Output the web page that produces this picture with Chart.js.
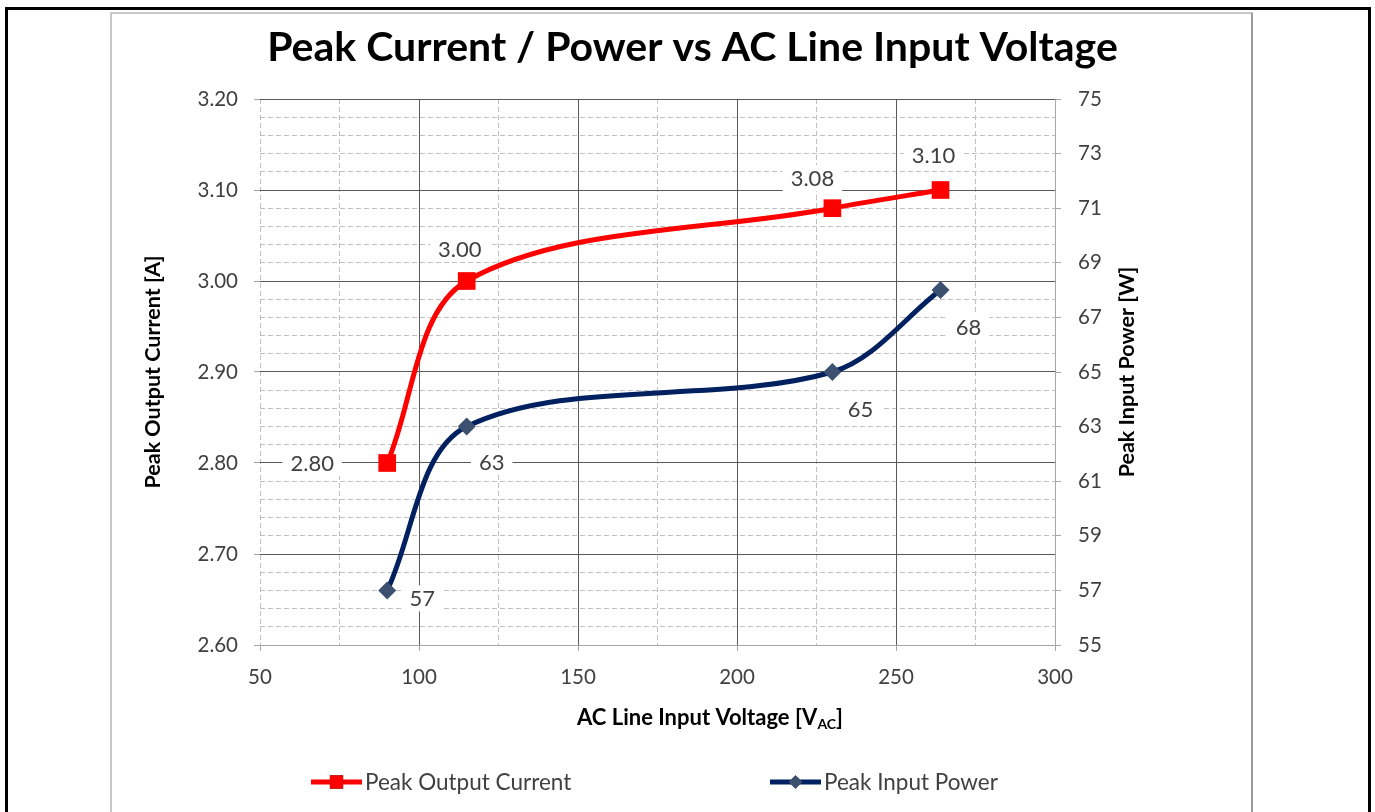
<!DOCTYPE html>
<html lang="en">
<head>
  <meta charset="UTF-8">
  <title>Peak Current / Power vs AC Line Input Voltage</title>
  <script src="https://cdn.jsdelivr.net/npm/chart.js"></script>
  <style>
    html, body { margin: 0; padding: 0; background: #fff; }
    canvas { display: block; }
  </style>
</head>
<body>
  <canvas id="chart" width="1375" height="812"></canvas>

  <script>
    // data
    const voltage = [90, 115, 230, 264];          // V AC
    const peakCurrent = [2.80, 3.00, 3.08, 3.10]; // A
    const peakPower = [57, 63, 65, 68];           // W

    const voltageRange = [50, 300];
    const currentRange = [2.60, 3.20];
    const powerRange = [55, 75];

    const titleText = 'Peak Current / Power vs AC Line Input Voltage';
    const FONT = 'Lato, "Open Sans", sans-serif';
    const TEXT = '#404040';
    const MAJOR = '#595959';
    const MINOR = '#c0c0c0';
    const AXIS = '#a6a6a6';

    // size the title so it spans like the original
    function fitSize(weight, text, width) {
      const c = document.createElement('canvas').getContext('2d');
      c.font = weight + ' 100px ' + FONT;
      return Math.round(100 * width / c.measureText(text).width);
    }
    const titleSize = fitSize('bold', titleText, 841);

    // frame, labels, axis titles and legend
    const decor = {
      id: 'decor',
      beforeDraw(chart) {
        const ctx = chart.ctx;
        ctx.save();
        ctx.fillStyle = '#fff';
        ctx.fillRect(0, 0, chart.width, chart.height);
        ctx.strokeStyle = '#c8c8c8';
        ctx.lineWidth = 2;
        ctx.strokeRect(111, 13, 1141, 900);
        ctx.strokeStyle = '#9a9a9a';
        ctx.beginPath(); ctx.moveTo(1252, 13); ctx.lineTo(1252, 812); ctx.stroke();
        ctx.strokeStyle = '#000';
        ctx.lineWidth = 3;
        ctx.strokeRect(6.5, 8.5, 1363, 900);
        ctx.restore();
      },
      afterDatasetsDraw(chart) {
        const ctx = chart.ctx;
        const area = chart.chartArea;
        ctx.save();

        // data labels on white boxes
        ctx.font = '22px ' + FONT;
        ctx.textAlign = 'center';
        ctx.textBaseline = 'middle';
        chart.data.datasets.forEach((ds, i) => {
          const meta = chart.getDatasetMeta(i);
          meta.data.forEach((pt, j) => {
            const txt = ds.labelFormat(ds.data[j].y);
            const [dx, dy] = ds.labelOffsets[j];
            const cx = pt.x + dx, cy = pt.y + dy;
            const w = ctx.measureText(txt).width + 16;
            ctx.fillStyle = '#fff';
            ctx.fillRect(cx - w / 2, cy - 13, w, 26);
            ctx.fillStyle = TEXT;
            ctx.fillText(txt, cx, cy + 1);
          });
        });

        // axis titles
        ctx.fillStyle = '#000';
        ctx.font = 'bold 21.5px ' + FONT;
        const midY = (area.top + area.bottom) / 2;
        [[153, 'Peak Output Current [A]'], [1127, 'Peak Input Power [W]']].forEach(([x, t]) => {
          ctx.save();
          ctx.translate(x, midY);
          ctx.rotate(-Math.PI / 2);
          ctx.textAlign = 'center';
          ctx.fillText(t, 0, 0);
          ctx.restore();
        });

        const main = 'AC Line Input Voltage [V';
        const sub = 'AC';
        ctx.font = 'bold 22px ' + FONT;
        const wMain = ctx.measureText(main).width;
        const wEnd = ctx.measureText(']').width;
        ctx.font = 'bold 14px ' + FONT;
        const wSub = ctx.measureText(sub).width;
        let x = 710 - (wMain + wSub + wEnd) / 2;
        ctx.textAlign = 'left';
        ctx.font = 'bold 22px ' + FONT;
        ctx.fillText(main, x, 718);
        x += wMain;
        ctx.font = 'bold 14px ' + FONT;
        ctx.fillText(sub, x, 724);
        x += wSub;
        ctx.font = 'bold 22px ' + FONT;
        ctx.fillText(']', x, 718);

        // legend
        const ly = 782;
        ctx.font = '22.5px ' + FONT;
        ctx.lineWidth = 5;
        chart.data.datasets.forEach((ds, i) => {
          const x0 = i === 0 ? 311 : 770;
          ctx.strokeStyle = ds.borderColor;
          ctx.beginPath(); ctx.moveTo(x0, ly); ctx.lineTo(x0 + 51, ly); ctx.stroke();
          Chart.helpers.drawPoint(ctx, {
            pointStyle: ds.pointStyle,
            radius: ds.pointRadius * 0.75,
            borderWidth: 0
          }, x0 + 25.5, ly);
          ctx.fillStyle = ds.pointBackgroundColor;
          ctx.fill();
          ctx.fillStyle = TEXT;
          ctx.fillText(ds.label, x0 + 54, ly + 1);
        });
        ctx.restore();
      }
    };

    const ctx = document.getElementById('chart').getContext('2d');
    const chart = new Chart(ctx, {
      type: 'line',
      data: {
        datasets: [{
          label: 'Peak Output Current',
          data: voltage.map((v, i) => ({ x: v, y: peakCurrent[i] })),
          xAxisID: 'x',
          yAxisID: 'y',
          borderColor: '#ff0000',
          backgroundColor: '#ff0000',
          pointBackgroundColor: '#ff0000',
          borderWidth: 5,
          tension: 0.33,
          pointStyle: 'rect',
          pointRadius: 12.5,
          pointBorderWidth: 0,
          labelFormat: v => v.toFixed(2),
          labelOffsets: [[-75, 0], [-7, -32], [-20, -30], [-7, -35]]
        }, {
          label: 'Peak Input Power',
          data: voltage.map((v, i) => ({ x: v, y: peakPower[i] })),
          xAxisID: 'x',
          yAxisID: 'y1',
          borderColor: '#002060',
          backgroundColor: '#002060',
          pointBackgroundColor: '#3c5170',
          borderWidth: 5,
          tension: 0.33,
          pointStyle: 'rectRot',
          pointRadius: 9,
          pointBorderWidth: 0,
          labelFormat: v => String(Math.round(v)),
          labelOffsets: [[35, 8], [25, 35], [28, 37], [28, 37]]
        }]
      },
      options: {
        responsive: false,
        animation: false,
        layout: { padding: { left: 10, right: 0, top: 0, bottom: 0 } },
        plugins: {
          legend: { display: false },
          tooltip: { enabled: false },
          title: {
            display: true,
            text: titleText,
            color: '#000',
            font: { family: FONT, size: titleSize, weight: 'bold', lineHeight: 1 },
            padding: { top: 48 - titleSize / 2, bottom: 51 - titleSize / 2 }
          }
        },
        scales: {
          xMinor: {
            type: 'linear',
            position: 'bottom',
            min: voltageRange[0],
            max: voltageRange[1],
            ticks: { stepSize: 25, display: false },
            grid: { color: MINOR, drawTicks: false, z: -2 },
            border: { display: false, dash: [5, 3] },
            afterFit: s => { s.height = 0; }
          },
          yMinor: {
            type: 'linear',
            position: 'left',
            min: currentRange[0],
            max: currentRange[1],
            ticks: { stepSize: 0.02, display: false },
            grid: { color: MINOR, drawTicks: false, z: -2 },
            border: { display: false, dash: [5, 3] },
            afterFit: s => { s.width = 0; }
          },
          x: {
            type: 'linear',
            position: 'bottom',
            min: voltageRange[0],
            max: voltageRange[1],
            ticks: {
              stepSize: 50,
              color: TEXT,
              padding: 14,
              font: { family: FONT, size: 20.5 }
            },
            grid: {
              color: c => c.tick.value === voltageRange[0] ? 'rgba(0,0,0,0)'
                : c.tick.value === voltageRange[1] ? AXIS : MAJOR,
              tickColor: AXIS,
              tickLength: 6
            },
            border: { display: true, color: AXIS },
            afterFit: s => { s.height = 812 - 645; }
          },
          y: {
            type: 'linear',
            position: 'left',
            min: currentRange[0],
            max: currentRange[1],
            ticks: {
              stepSize: 0.1,
              color: TEXT,
              padding: 16,
              font: { family: FONT, size: 20.5 },
              callback: v => v.toFixed(2)
            },
            grid: {
              color: c => c.tick.value <= currentRange[0] + 1e-9 ? AXIS : MAJOR,
              tickColor: AXIS,
              tickLength: 6
            },
            border: { display: false },
            afterFit: s => { s.width = 250; }
          },
          y1: {
            type: 'linear',
            position: 'right',
            min: powerRange[0],
            max: powerRange[1],
            ticks: {
              stepSize: 2,
              color: TEXT,
              padding: 17,
              font: { family: FONT, size: 20.5 }
            },
            grid: { drawOnChartArea: false, tickColor: AXIS, tickLength: 6 },
            border: { display: true, color: AXIS },
            afterFit: s => { s.width = 1375 - 1055; }
          }
        }
      },
      plugins: [decor]
    });
  </script>
</body>
</html>
